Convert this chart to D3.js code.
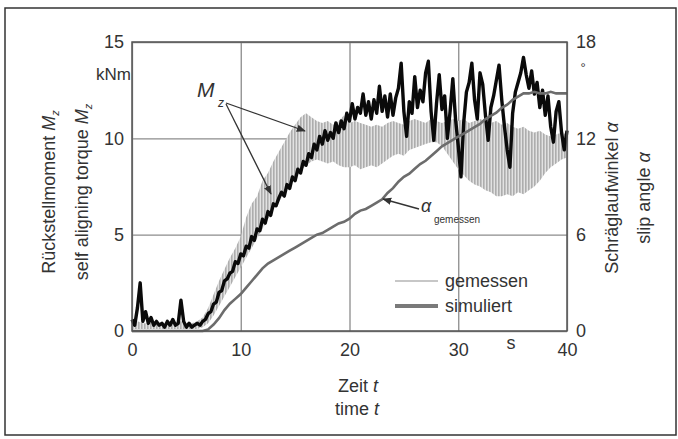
<!DOCTYPE html>
<html>
<head>
<meta charset="utf-8">
<script src="https://cdn.jsdelivr.net/npm/d3@7"></script>
<style>
  body { margin: 0; background: #fff; }
  svg text { font-family: "Liberation Sans", Arial, sans-serif; fill: #333; }
</style>
</head>
<body>
<svg id="chart" width="678" height="439"></svg>
<script>
// time ticks and axis ticks
const timeTicks = [0, 10, 20, 30, 40];
const torqueTicks = [0, 5, 10, 15];
const angleTicks = [0, 6, 12, 18];

// black Mz trace, one value every 0.25 s (kNm)
const mzStep = 0.25;
const mzBlack = [
  0.6, 0.3, 1.2, 2.5, 0.5, 1.0, 0.4, 0.7,
  0.3, 0.5, 0.3, 0.4, 0.2, 0.5, 0.3, 0.6,
  0.3, 0.4, 1.6, 0.5, 0.2, 0.4, 0.2, 0.3,
  0.4, 0.3, 0.5, 0.6, 0.9, 1.0, 1.4, 1.5,
  2.0, 2.1, 2.6, 2.7, 3.0, 3.1, 3.6, 3.5,
  4.0, 3.9, 4.4, 4.3, 4.9, 4.7, 5.3, 5.2,
  5.8, 5.6, 6.2, 6.0, 6.6, 6.5, 6.9, 7.2,
  7.0, 7.6, 7.4, 8.0, 7.8, 8.4, 8.2, 8.8,
  8.6, 9.2, 9.0, 9.7, 9.4, 10.1, 9.7, 10.4,
  9.9, 10.3, 10.0, 10.8, 10.3, 10.9, 10.5, 11.3,
  10.9, 11.8, 11.0, 11.6, 11.3, 12.3, 11.2, 11.9,
  11.0, 12.0, 11.3, 12.7, 11.4, 12.2, 11.1, 12.3,
  11.2, 12.1, 12.6, 13.9, 11.4, 10.1, 11.9, 11.3,
  13.2, 11.6, 12.5, 11.9, 13.4, 14.0, 11.4, 9.9,
  11.8, 13.3, 11.5, 12.2, 10.0, 11.4, 13.1, 11.0,
  9.6, 8.0, 10.8, 12.4, 12.9, 13.9, 12.0, 11.0,
  13.4, 12.8, 11.2, 9.9, 11.6, 12.2, 13.0, 13.8,
  12.0, 10.6, 9.4, 8.5, 11.3, 12.4, 12.9, 13.4,
  14.2, 13.3, 12.6, 13.5, 12.3, 12.9, 11.6, 12.5,
  11.2, 12.2, 10.6, 9.8, 11.4, 11.9, 10.3, 9.4,
  10.4
];

// light grey oscillating Mz trace, lower / upper envelope every 0.5 s (kNm)
const bandStep = 0.5;
const mzGreyLo = [
  0.1, 0.1, 0.1, 0.1, 0.1, 0.1, 0.1, 0.1, 0.1, 0.1,
  0.1, 0.1, 0.1, 0.2, 0.4, 0.8, 1.3, 1.8, 2.3, 2.8,
  3.3, 3.8, 4.3, 4.8, 5.3, 5.8, 6.3, 6.7, 7.1, 7.6,
  8.0, 8.3, 8.6, 8.8, 8.9, 8.8, 8.7, 8.8, 8.6, 8.5,
  8.5, 8.6, 8.4, 8.5, 8.6, 8.5, 8.7, 8.9, 9.1, 9.2,
  9.1, 9.4, 9.5, 9.6, 9.7, 9.8, 9.8, 9.6, 9.2, 8.8,
  8.4, 8.1, 7.8, 7.6, 7.5, 7.3, 7.2, 7.0, 7.0, 7.1,
  7.0, 7.2, 7.1, 7.3, 7.5, 7.8, 8.2, 8.5, 8.7, 8.9,
  9.0
];
const mzGreyHi = [
  0.4, 0.5, 0.4, 0.4, 0.5, 0.4, 0.4, 0.5, 0.4, 0.5,
  0.4, 0.4, 0.5, 0.7, 1.2, 1.9, 2.6, 3.2, 3.8, 4.3,
  4.9, 5.9, 6.6, 7.0, 7.8, 8.2, 8.8, 9.3, 9.8, 10.3,
  10.7, 11.1, 11.3, 11.1, 10.9, 10.8, 10.9, 10.7, 10.9, 11.2,
  10.8, 10.9, 10.8, 10.7, 10.6, 10.7, 10.6, 10.8, 10.9, 10.8,
  10.7, 10.9, 11.0, 10.9, 10.8, 11.0, 10.9, 10.8, 10.9, 11.0,
  10.9, 11.0, 10.8, 10.9, 11.0, 10.9, 10.8, 10.9, 10.7, 10.8,
  10.6, 10.5, 10.6, 10.4, 10.3, 10.4, 10.2, 10.1, 10.2, 10.3,
  10.2
];

// measured slip angle every 0.5 s (degrees)
const alphaStep = 0.5;
const alphaMeasured = [
  0, 0, 0, 0, 0, 0, 0, 0, 0, 0,
  0, 0, 0, 0, 0.1, 0.4, 0.8, 1.3, 1.7, 2.0,
  2.3, 2.7, 3.1, 3.5, 3.9, 4.2, 4.4, 4.6, 4.8, 5.0,
  5.2, 5.4, 5.6, 5.8, 6.0, 6.1, 6.3, 6.5, 6.7, 6.8,
  7.0, 7.3, 7.5, 7.6, 7.8, 8.0, 8.2, 8.6, 8.9, 9.3,
  9.6, 9.8, 10.1, 10.4, 10.6, 10.9, 11.2, 11.5, 11.7, 11.9,
  12.1, 12.3, 12.5, 12.7, 12.9, 13.2, 13.4, 13.6, 13.9, 14.1,
  14.4, 14.6, 14.8, 14.8, 14.9, 14.8, 14.8, 14.9, 14.8, 14.8,
  14.8
];

const legendItems = ["gemessen", "simuliert"];

const svg = d3.select("#chart");
const plotLeft = 132, plotTop = 42, plotW = 435, plotH = 289;
const defs = svg.append("defs");

// vertical stripes to look like the fast oscillation of the grey trace
defs.append("pattern")
  .attr("id", "stripes").attr("patternUnits", "userSpaceOnUse")
  .attr("width", 3).attr("height", 10)
  .call(p => p.append("rect").attr("width", 3).attr("height", 10).attr("fill", "#e2e2e2"))
  .append("rect").attr("width", 1.6).attr("height", 10).attr("fill", "#adadad");

// outer frame
svg.append("rect")
  .attr("x", 5).attr("y", 8)
  .attr("width", 671).attr("height", 427)
  .attr("fill", "none").attr("stroke", "#333").attr("stroke-width", 1.5);

const x = d3.scaleLinear().domain([0, 40]).range([plotLeft, plotLeft + plotW]);
const yM = d3.scaleLinear().domain([0, 15]).range([plotTop + plotH, plotTop]);
const yA = d3.scaleLinear().domain([0, 18]).range([plotTop + plotH, plotTop]);

// grid
svg.append("g")
  .attr("transform", `translate(0,${plotTop + plotH})`)
  .call(d3.axisBottom(x).tickValues(timeTicks).tickSize(-plotH).tickFormat(""))
  .call(g => g.select(".domain").remove())
  .selectAll("line").attr("stroke", "#8c8c8c").attr("stroke-width", 1.3);
svg.append("g")
  .attr("transform", `translate(${plotLeft},0)`)
  .call(d3.axisLeft(yM).tickValues(torqueTicks).tickSize(-plotW).tickFormat(""))
  .call(g => g.select(".domain").remove())
  .selectAll("line").attr("stroke", "#8c8c8c").attr("stroke-width", 1.3);

// grey band (oscillating trace)
const bandData = mzGreyLo.map((lo, i) => ({ t: i * bandStep, lo: lo, hi: mzGreyHi[i] }));
svg.append("path")
  .datum(bandData)
  .attr("fill", "url(#stripes)")
  .attr("d", d3.area().x(d => x(d.t)).y0(d => yM(d.lo)).y1(d => yM(d.hi)));

// black trace
svg.append("path")
  .datum(mzBlack.map((v, i) => ({ t: i * mzStep, v: v })))
  .attr("fill", "none").attr("stroke", "#0a0a0a").attr("stroke-width", 3.4)
  .attr("stroke-linejoin", "round")
  .attr("d", d3.line().x(d => x(d.t)).y(d => yM(d.v)));

// slip angle
svg.append("path")
  .datum(alphaMeasured.map((v, i) => ({ t: i * alphaStep, v: v })))
  .attr("fill", "none").attr("stroke", "#6c6c6c").attr("stroke-width", 2.6)
  .attr("d", d3.line().x(d => x(d.t)).y(d => yA(d.v)));

// plot box
svg.append("rect")
  .attr("x", plotLeft).attr("y", plotTop).attr("width", plotW).attr("height", plotH)
  .attr("fill", "none").attr("stroke", "#555").attr("stroke-width", 1.5);

// tick labels
const axisFont = g => {
  g.select(".domain").remove();
  g.selectAll("text").style("font-size", "18px").attr("fill", "#333");
};
svg.append("g")
  .attr("transform", `translate(${plotLeft},0)`)
  .call(d3.axisLeft(yM).tickValues(torqueTicks).tickSize(0).tickPadding(8))
  .call(axisFont);
svg.append("g")
  .attr("transform", `translate(${plotLeft + plotW},0)`)
  .call(d3.axisRight(yA).tickValues(angleTicks).tickSize(0).tickPadding(9))
  .call(axisFont);
svg.append("g")
  .attr("transform", `translate(0,${plotTop + plotH})`)
  .call(d3.axisBottom(x).tickValues(timeTicks).tickSize(0).tickPadding(12))
  .call(axisFont);

// units
svg.append("text").attr("x", 131).attr("y", 80).attr("text-anchor", "end")
  .style("font-size", "17px").text("kNm");
svg.append("text").attr("x", 583).attr("y", 72).attr("text-anchor", "middle")
  .style("font-size", "13px").text("°");
svg.append("text").attr("x", 511).attr("y", 349).attr("text-anchor", "middle")
  .style("font-size", "18px").text("s");

// x title
const xt = svg.append("text").attr("text-anchor", "middle").style("font-size", "18px");
xt.append("tspan").attr("x", 358).attr("y", 392).text("Zeit ");
xt.append("tspan").style("font-style", "italic").text("t");
const xt2 = svg.append("text").attr("text-anchor", "middle").style("font-size", "18px");
xt2.append("tspan").attr("x", 357).attr("y", 415).text("time ");
xt2.append("tspan").style("font-style", "italic").text("t");

// rotated titles
function rotLabel(cx, cy, main, sym, sub) {
  const t = svg.append("text")
    .attr("transform", `translate(${cx},${cy}) rotate(-90)`)
    .attr("text-anchor", "middle").attr("dy", "0.35em")
    .style("font-size", "18px");
  t.append("tspan").text(main);
  t.append("tspan").style("font-style", "italic").text(sym);
  if (sub) t.append("tspan").attr("dy", "0.3em").style("font-size", "11px").style("font-style", "italic").text(sub);
}
rotLabel(49, 192, "Rückstellmoment ", "M", "z");
rotLabel(82, 192, "self aligning torque ", "M", "z");
rotLabel(612, 198, "Schräglaufwinkel ", "α", null);
rotLabel(644, 198, "slip angle ", "α", null);

// annotations
defs.append("marker")
  .attr("id", "arr").attr("viewBox", "0 0 10 10").attr("refX", 9).attr("refY", 5)
  .attr("markerWidth", 7).attr("markerHeight", 7).attr("orient", "auto")
  .append("path").attr("d", "M0,1 L10,5 L0,9 Z").attr("fill", "#333");

const mz = svg.append("text").style("font-size", "21px").style("font-style", "italic");
mz.append("tspan").attr("x", 197).attr("y", 97).text("M");
mz.append("tspan").attr("x", 218).attr("y", 107).style("font-size", "12px").text("z");
svg.append("line").attr("x1", 226).attr("y1", 103).attr("x2", 305).attr("y2", 131)
  .attr("stroke", "#333").attr("stroke-width", 1.3).attr("marker-end", "url(#arr)");
svg.append("line").attr("x1", 226).attr("y1", 104).attr("x2", 271).attr("y2", 194)
  .attr("stroke", "#333").attr("stroke-width", 1.3).attr("marker-end", "url(#arr)");

const al = svg.append("text").style("font-style", "italic");
al.append("tspan").attr("x", 421).attr("y", 212).style("font-size", "18px").text("α");
al.append("tspan").attr("x", 434).attr("y", 223).style("font-size", "10px").style("font-style", "normal").text("gemessen");
svg.append("line").attr("x1", 419).attr("y1", 209).attr("x2", 383).attr("y2", 199)
  .attr("stroke", "#333").attr("stroke-width", 1.3).attr("marker-end", "url(#arr)");

// legend
const legStyle = [
  { stroke: "#b4b4b4", width: 1.5 },
  { stroke: "#7a7a7a", width: 4 }
];
legendItems.forEach((name, i) => {
  const ly = 281 + i * 25;
  svg.append("line").attr("x1", 395).attr("x2", 438).attr("y1", ly).attr("y2", ly)
    .attr("stroke", legStyle[i].stroke).attr("stroke-width", legStyle[i].width);
  svg.append("text").attr("x", 445).attr("y", ly).attr("dy", "0.35em")
    .style("font-size", "18px").text(name);
});
</script>
</body>
</html>
